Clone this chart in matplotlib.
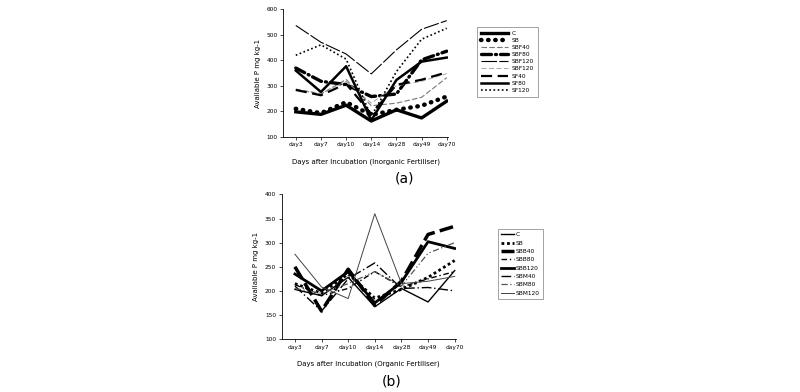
import numpy as np
import matplotlib
matplotlib.use("Agg")
import matplotlib.pyplot as plt

days = ["day3", "day7", "day10", "day14", "day28", "day49", "day70"]

# (a) inorganic fertiliser
a_labels = ["C", "SB", "SBF40", "SBF80", "SBF120", "SBF120", "SF40", "SF80", "SF120"]
a_C      = [198, 188, 224, 162, 206, 174, 240]
a_SB     = [210, 193, 236, 186, 206, 222, 258]
a_SBF40  = [285, 268, 325, 222, 232, 255, 332]
a_SBF80  = [370, 318, 305, 258, 268, 402, 436]
a_SBF120 = [537, 471, 425, 347, 441, 522, 556]
a_SBF120b = [288, 270, 318, 232, 300, 318, 348]
a_SF40   = [284, 263, 308, 190, 304, 324, 353]
a_SF80   = [360, 276, 377, 165, 323, 395, 411]
a_SF120  = [420, 461, 405, 180, 356, 483, 526]

# (b) organic fertiliser
b_labels = ["C", "SB", "SBB40", "SBB80", "SBB120", "SBM40", "SBM80", "SBM120"]
b_C      = [203, 190, 228, 167, 205, 177, 242]
b_SB     = [215, 195, 235, 185, 203, 228, 263]
b_SBB40  = [250, 158, 245, 170, 220, 317, 334]
b_SBB80  = [213, 190, 205, 240, 208, 225, 240]
b_SBB120 = [235, 200, 240, 175, 218, 302, 288]
b_SBM40  = [210, 158, 225, 258, 205, 207, 200]
b_SBM80  = [205, 195, 215, 240, 210, 278, 300]
b_SBM120 = [276, 208, 184, 360, 215, 220, 230]

a_series = [a_C, a_SB, a_SBF40, a_SBF80, a_SBF120, a_SBF120b, a_SF40, a_SF80, a_SF120]
a_styles = [
    dict(color="black", lw=2.4, ls="-"),
    dict(color="black", lw=3.2, ls=(0, (0.1, 1.5)), dash_capstyle="round"),
    dict(color="#777777", lw=0.8, ls=(0, (5, 2))),
    dict(color="black", lw=2.4, ls=(0, (3, 1.2, 0.3, 1.2)), dash_capstyle="round"),
    dict(color="black", lw=0.8, ls=(0, (14, 2))),
    dict(color="#999999", lw=0.6, ls=(0, (6, 3))),
    dict(color="black", lw=1.6, ls=(0, (5, 2.5))),
    dict(color="black", lw=1.8, ls="-"),
    dict(color="black", lw=1.2, ls=(0, (1, 1.5))),
]

b_series = [b_C, b_SB, b_SBB40, b_SBB80, b_SBB120, b_SBM40, b_SBM80, b_SBM120]
b_styles = [
    dict(color="black", lw=1.0, ls="-"),
    dict(color="black", lw=2.0, ls=(0, (1, 1))),
    dict(color="black", lw=2.5, ls=(0, (4, 1.5))),
    dict(color="black", lw=1.0, ls=(0, (4, 2, 1, 2))),
    dict(color="black", lw=2.0, ls="-"),
    dict(color="black", lw=1.0, ls=(0, (7, 2, 1, 2))),
    dict(color="#555555", lw=0.9, ls=(0, (5, 2, 1, 2, 1, 2))),
    dict(color="#444444", lw=0.7, ls="-"),
]

fig = plt.figure(figsize=(8, 3.92), dpi=100)
fs = 4.2


def style_axes(ax, yticks, ylim):
    ax.set_xlim(-0.5, 6.05)
    ax.set_ylim(*ylim)
    ax.set_yticks(yticks)
    ax.set_xticks(range(len(days)))
    ax.set_xticklabels(days)
    ax.tick_params(labelsize=fs, length=2, width=0.5, pad=2)
    for s in ["top", "right"]:
        ax.spines[s].set_visible(False)
    for s in ["left", "bottom"]:
        ax.spines[s].set_linewidth(0.6)
    ax.set_ylabel("Available P mg kg-1", fontsize=5, labelpad=4)


x = np.arange(len(days))

ax1 = fig.add_axes([0.354, 0.651, 0.206, 0.325])
for vals, lab, st in zip(a_series, a_labels, a_styles):
    ax1.plot(x, vals, label=lab, **st)
style_axes(ax1, np.arange(100, 601, 100), (100, 600))
ax1.set_xlabel("Days after Incubation (Inorganic Fertiliser)", fontsize=5, labelpad=8)
leg1 = ax1.legend(loc="upper left", bbox_to_anchor=(0.596, 0.932),
                  bbox_transform=fig.transFigure, fontsize=fs, frameon=True,
                  fancybox=False, handlelength=4.6, labelspacing=0.35,
                  borderpad=0.7, handletextpad=0.6, borderaxespad=0)
leg1.get_frame().set_edgecolor("#777777")
leg1.get_frame().set_linewidth(0.6)
fig.text(0.506, 0.545, "(a)", fontsize=10, ha="center", va="center")

ax2 = fig.add_axes([0.352, 0.135, 0.218, 0.369])
for vals, lab, st in zip(b_series, b_labels, b_styles):
    ax2.plot(x, vals, label=lab, **st)
style_axes(ax2, np.arange(100, 401, 50), (100, 400))
ax2.set_xlabel("Days after Incubation (Organic Fertiliser)", fontsize=5, labelpad=8)
leg2 = ax2.legend(loc="upper left", bbox_to_anchor=(0.623, 0.415),
                  bbox_transform=fig.transFigure, fontsize=fs, frameon=True,
                  fancybox=False, handlelength=2.2, labelspacing=0.56,
                  borderpad=0.5, handletextpad=0.3, borderaxespad=0)
leg2.get_frame().set_edgecolor("#777777")
leg2.get_frame().set_linewidth(0.6)
fig.text(0.49, 0.028, "(b)", fontsize=10, ha="center", va="center")

fig.savefig("out.png", dpi=100)
